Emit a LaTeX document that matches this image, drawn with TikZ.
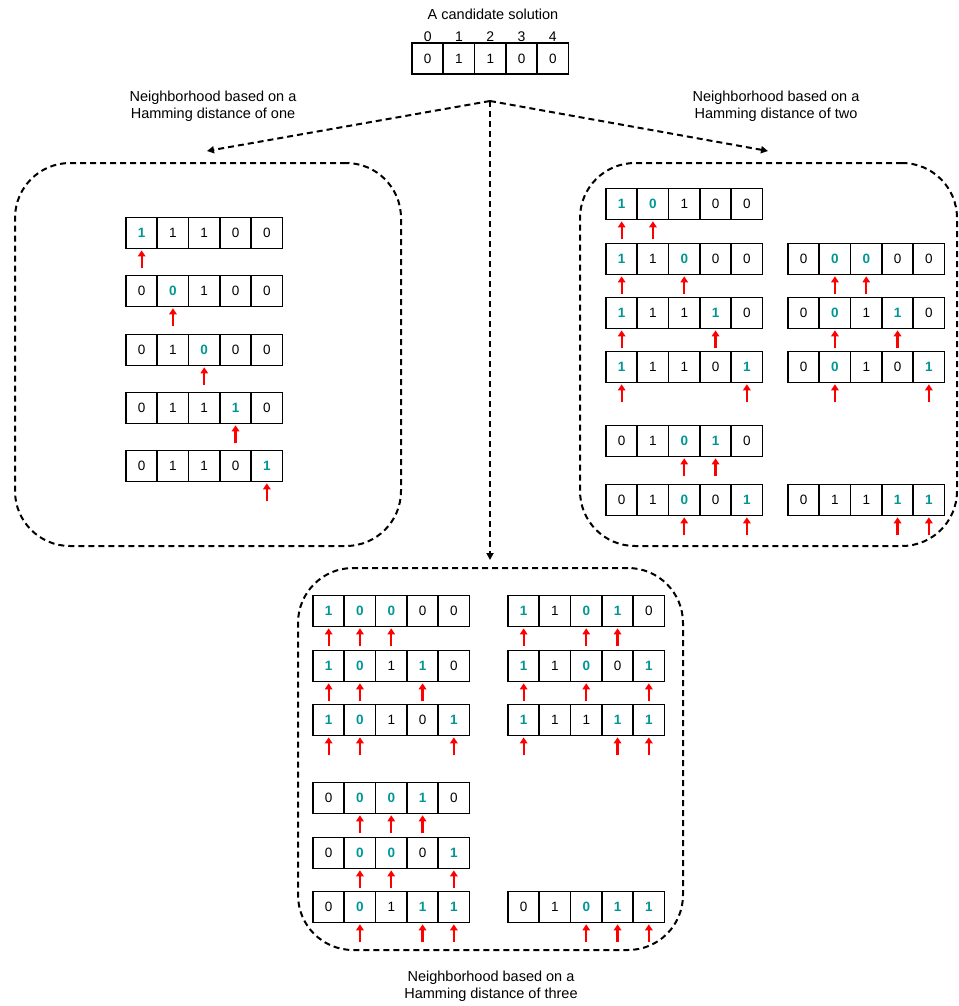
\documentclass[tikz,border=0pt]{standalone}
\usepackage{fontspec}
\setmainfont{Liberation Sans}
\usetikzlibrary{arrows.meta}
\definecolor{flipteal}{RGB}{0,150,150}
\tikzset{
  cell/.style={draw, line width=1.7pt, minimum width=31.3pt, minimum height=31pt, inner sep=0pt, font=\fontsize{13.5pt}{15pt}\selectfont},
  flipcell/.style={cell, text=flipteal, font=\fontsize{13.5pt}{15pt}\selectfont\bfseries},
  redarr/.style={draw=red, line width=2.3pt, -{Triangle[length=6pt,width=7.5pt]}},
  hood/.style={draw, line width=2pt, dash pattern=on 6pt off 4pt, rounded corners=55pt, inner sep=0pt},
  link/.style={draw, line width=2pt, dash pattern=on 6pt off 4pt, -{Triangle[length=7pt,width=7pt]}},
  lbl/.style={align=center, inner sep=0pt, font=\fontsize{14.5pt}{17pt}\selectfont},
  idx/.style={inner sep=0pt, font=\fontsize{14pt}{15pt}\selectfont}
}
\newcommand\bitrow[5]{%
  \foreach \d [count=\k from 0] in {#4}{%
    \gdef\isflip{0}%
    \foreach \j in {#5}{\ifnum\j=\k\relax\gdef\isflip{1}\fi}%
    \ifnum\isflip=1\relax
      \node[flipcell] (#1-\k) at ({#2+15.65+31.3*\k},#3) {\d};
      \draw[redarr] ([yshift=-19pt]#1-\k.south) -- ([yshift=-1pt]#1-\k.south);
    \else
      \node[cell] (#1-\k) at ({#2+15.65+31.3*\k},#3) {\d};
    \fi
  }%
}
\begin{document}
\begin{tikzpicture}[x=1pt,y=-1pt]
\useasboundingbox (0,0) rectangle (958,1006);
\clip (0,0) rectangle (958,1006);
% title and candidate
\node[lbl] (title) at (493,14) {A candidate solution};
\bitrow{top}{412}{58.5}{0,1,1,0,0}{9}
\foreach \k in {0,...,4}{\node[idx] (ix\k) at ([yshift=22pt]top-\k.center) {\k};}
% hub arrows
\coordinate (hub) at (490,101);
\coordinate (tone) at (207,151);
\coordinate (ttwo) at (768,151);
\coordinate (tthree) at (490,560);
\draw[link] (hub) -- (tone);
\draw[link] (hub) -- (ttwo);
\draw[link] (hub) -- (tthree);
% labels
\node[lbl] (lone) at (213,106) {Neighborhood based on a\\Hamming distance of one};
\node[lbl] (ltwo) at (776,106) {Neighborhood based on a\\Hamming distance of two};
\node[lbl] (lthree) at (491,986) {Neighborhood based on a\\Hamming distance of three};
% boxes
\node[hood, minimum width=386pt, minimum height=383pt] (boxone) at (208,354.5) {};
\node[hood, minimum width=377pt, minimum height=383pt] (boxtwo) at (768.5,354.5) {};
\node[hood, minimum width=385pt, minimum height=382pt] (boxthree) at (490.5,759) {};
% distance one
\bitrow{a1}{126}{233}{1,1,1,0,0}{0}
\bitrow{a2}{126}{291}{0,0,1,0,0}{1}
\bitrow{a3}{126}{350}{0,1,0,0,0}{2}
\bitrow{a4}{126}{408}{0,1,1,1,0}{3}
\bitrow{a5}{126}{466}{0,1,1,0,1}{4}
% distance two
\bitrow{b1}{606}{204}{1,0,1,0,0}{0,1}
\bitrow{b2}{606}{259}{1,1,0,0,0}{0,2}
\bitrow{b3}{606}{313}{1,1,1,1,0}{0,3}
\bitrow{b4}{606}{367}{1,1,1,0,1}{0,4}
\bitrow{b5}{606}{441}{0,1,0,1,0}{2,3}
\bitrow{b6}{606}{500}{0,1,0,0,1}{2,4}
\bitrow{b7}{788}{259}{0,0,0,0,0}{1,2}
\bitrow{b8}{788}{313}{0,0,1,1,0}{1,3}
\bitrow{b9}{788}{367}{0,0,1,0,1}{1,4}
\bitrow{b10}{788}{500}{0,1,1,1,1}{3,4}
% distance three
\bitrow{c1}{313}{611}{1,0,0,0,0}{0,1,2}
\bitrow{c2}{313}{666}{1,0,1,1,0}{0,1,3}
\bitrow{c3}{313}{720}{1,0,1,0,1}{0,1,4}
\bitrow{c4}{313}{798}{0,0,0,1,0}{1,2,3}
\bitrow{c5}{313}{853}{0,0,0,0,1}{1,2,4}
\bitrow{c6}{313}{907}{0,0,1,1,1}{1,3,4}
\bitrow{c7}{508}{611}{1,1,0,1,0}{0,2,3}
\bitrow{c8}{508}{666}{1,1,0,0,1}{0,2,4}
\bitrow{c9}{508}{720}{1,1,1,1,1}{0,3,4}
\bitrow{c10}{508}{907}{0,1,0,1,1}{2,3,4}
\end{tikzpicture}
\end{document}
